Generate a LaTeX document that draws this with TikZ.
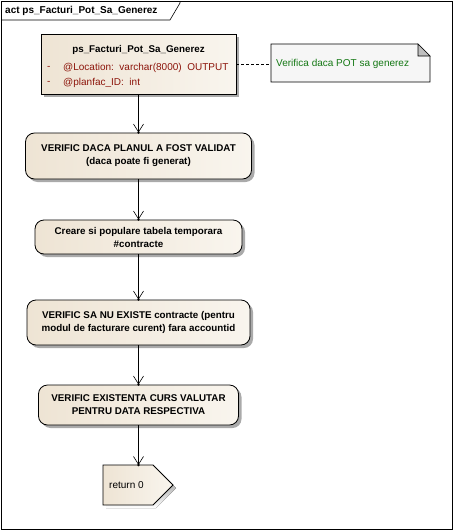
\documentclass[tikz,border=0pt]{standalone}
\usepackage{fontspec}
\setmainfont{Liberation Sans}
\usetikzlibrary{shapes.symbols,arrows.meta,calc,shadows}
\definecolor{boxfill}{RGB}{238,228,212}
\definecolor{boxfill2}{RGB}{249,245,238}
\definecolor{shade}{RGB}{170,170,170}
\definecolor{attr}{RGB}{140,20,10}
\definecolor{notegreen}{RGB}{20,120,20}
\definecolor{notefill}{RGB}{246,246,246}
\tikzset{
  x=1pt,y=-1pt,
  every node/.style={font=\fontsize{10}{13}\selectfont},
  actbox/.style={draw=black,line width=0.8pt,rounded corners=9pt,left color=boxfill,right color=boxfill2,
    drop shadow={shadow xshift=3pt,shadow yshift=-3pt,fill=shade,opacity=1},
    align=center,font=\fontsize{9.8}{13}\selectfont\bfseries,inner sep=0pt},
  flow/.style={line width=0.6pt,-{Straight Barb[length=8pt,width=10pt,line width=0.6pt]}},
}
\begin{document}
\begin{tikzpicture}
\useasboundingbox (0,0) rectangle (454,530);
% frame
\draw[line width=0.9pt] (1,1) rectangle (452,529);
\draw[line width=0.6pt] (1,20) -- (170,20) -- (180,3) -- (180,1);
\node[anchor=west,font=\fontsize{10}{12}\selectfont\bfseries,inner sep=0pt] (title) at (5,11) {act ps\_Facturi\_Pot\_Sa\_Generez};

% start node
\node[draw=black,line width=0.8pt,minimum width=195pt,minimum height=60pt,left color=boxfill,right color=boxfill2,
  drop shadow={shadow xshift=3pt,shadow yshift=-3pt,fill=shade,opacity=1}] (start) at (138.5,64) {};
\node[font=\fontsize{9.8}{12}\selectfont\bfseries] (stitle) at (138.5,50) {ps\_Facturi\_Pot\_Sa\_Generez};
\node[anchor=west,text=attr,inner sep=0pt] (a1d) at (47,68) {-};
\node[anchor=west,text=attr,inner sep=0pt] (a1) at (63,68) {@Location:\ \ varchar(8000)\ \ OUTPUT};
\node[anchor=west,text=attr,inner sep=0pt] (a2d) at (47,83) {-};
\node[anchor=west,text=attr,inner sep=0pt] (a2) at (63,83) {@planfac\_ID:\ \ int};

% note
\draw[line width=0.6pt,fill=notefill] (271,44) -- (418,44) -- (430,56) -- (430,82) -- (271,82) -- cycle;
\draw[line width=0.6pt,fill=black!25] (418,44) -- (418,56) -- (430,56) -- cycle;
\coordinate (noteW) at (271,64);
\node[anchor=west,text=notegreen,inner sep=0pt] (notetext) at (276,64) {Verifica daca POT sa generez};
\draw[dashed,line width=0.6pt,dash pattern=on 3pt off 2pt] (start.east |- noteW) -- (noteW);

% actions
\node[actbox,minimum width=226pt,minimum height=46pt] (act1) at (138.5,156)
  {VERIFIC DACA PLANUL A FOST VALIDAT\\(daca poate fi generat)};
\node[actbox,minimum width=207pt,minimum height=34pt] (act2) at (138.5,237)
  {Creare si populare tabela temporara\\\#contracte};
\node[actbox,minimum width=223pt,minimum height=45pt] (act3) at (138.5,322.5)
  {VERIFIC SA NU EXISTE contracte (pentru\\modul de facturare curent) fara accountid};
\node[actbox,minimum width=200pt,minimum height=40pt] (act4) at (138.5,405)
  {VERIFIC EXISTENTA CURS VALUTAR\\PENTRU DATA RESPECTIVA};

% return (send signal)
\fill[shade] (106,468) -- (156,468) -- (176,488) -- (156,508) -- (106,508) -- cycle;
\draw[line width=0.8pt,left color=boxfill,right color=boxfill2] (103,465) -- (153,465) -- (173,485) -- (153,505) -- (103,505) -- cycle;
\coordinate (retN) at (138.5,465);
\node[anchor=west,inner sep=0pt] (rettext) at (109,485) {return 0};

% flows
\draw[flow] (start.south) -- (act1.north);
\draw[flow] (act1.south) -- (act2.north);
\draw[flow] (act2.south) -- (act3.north);
\draw[flow] (act3.south) -- (act4.north);
\draw[flow] (act4.south) -- (retN);
\foreach \n in {act1.north,act2.north,act3.north,act4.north,retN} \fill (\n) circle (1.3pt);
\end{tikzpicture}
\end{document}
